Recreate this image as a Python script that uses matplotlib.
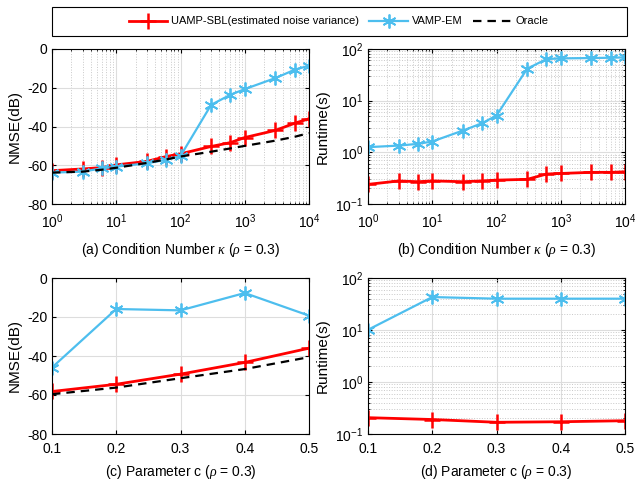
import numpy as np
import matplotlib
matplotlib.use("Agg")
import matplotlib.pyplot as plt
from matplotlib.ticker import LogLocator, NullFormatter
from matplotlib.patches import Rectangle

plt.rcParams['font.family'] = ['Liberation Sans', 'DejaVu Sans']
plt.rcParams['mathtext.fontset'] = 'custom'
plt.rcParams['mathtext.it'] = 'Liberation Serif:italic'
plt.rcParams['mathtext.rm'] = 'Liberation Sans'

# Data
kappa = [1, 3, 6, 10, 30, 60, 100, 300, 600, 1000, 3000, 6000, 10000]
uamp_nmse_k = [-62.8, -61.9, -61.2, -59.8, -58.0, -55.5, -54.1, -50.3, -48.3, -45.7, -42.0, -38.3, -36.0]
vamp_nmse_k = [-63.8, -63.3, -61.6, -60.7, -59.0, -57.2, -55.2, -28.8, -23.6, -20.7, -15.0, -10.7, -8.6]
oracle_nmse_k = [-63.8, -63.3, -62.3, -61.3, -58.8, -57.0, -55.5, -53.0, -51.3, -50.0, -47.3, -45.3, -43.4]

uamp_rt_k = [0.24, 0.279, 0.27, 0.28, 0.27, 0.28, 0.29, 0.30, 0.38, 0.39, 0.41, 0.41, 0.42]
vamp_rt_k = [1.26, 1.35, 1.46, 1.62, 2.64, 3.67, 5.16, 41.5, 63.9, 65.8, 66.8, 67.7, 68.9]

cpar = [0.1, 0.2, 0.3, 0.4, 0.5]
uamp_nmse_c = [-58.2, -54.5, -49.3, -43.3, -36.0]
vamp_nmse_c = [-45.9, -15.9, -16.6, -7.7, -19.3]
oracle_nmse_c = [-59.6, -56.2, -51.4, -46.7, -40.6]

uamp_rt_c = [0.206, 0.19, 0.168, 0.172, 0.18]
vamp_rt_c = [10.1, 43.0, 40.0, 40.0, 40.0]

labels = ['UAMP-SBL(estimated noise variance)', 'VAMP-EM', 'Oracle']
captions = [r'(a) Condition Number $\kappa$ ($\rho$ = 0.3)',
            r'(b) Condition Number $\kappa$ ($\rho$ = 0.3)',
            r'(c) Parameter c ($\rho$ = 0.3)',
            r'(d) Parameter c ($\rho$ = 0.3)']

RED = '#FF0000'
BLUE = '#4DBEEE'
FS = 10

W, H = 635, 483
fig = plt.figure(figsize=(W/100, H/100), dpi=100)

def rect(l, r, t, b):
    return [l/W, 1 - b/H, (r-l)/W, (b-t)/H]

axa = fig.add_axes(rect(52, 309, 49, 204))
axb = fig.add_axes(rect(368, 625, 49, 204))
axc = fig.add_axes(rect(52, 309, 278, 434))
axd = fig.add_axes(rect(368, 625, 278, 434))

star = (6, 2, 0)

def red(ax, x, y):
    return ax.plot(x, y, color=RED, lw=2, marker='+', ms=11, mew=1.8)[0]

def blue(ax, x, y):
    return ax.plot(x, y, color=BLUE, lw=1.6, marker=star, ms=10, mew=1.3)[0]

def black(ax, x, y):
    return ax.plot(x, y, color='black', lw=1.6, ls=(0, (3.8, 2.7)))[0]

def style(ax):
    ax.tick_params(direction='in', which='both', labelsize=FS, top=True, right=True, length=3)
    ax.tick_params(which='minor', length=1.5)
    ax.tick_params(axis='x', which='major', pad=6)
    for s in ax.spines.values():
        s.set_linewidth(0.8)
    ax.set_axisbelow(True)

# (a)
l1 = red(axa, kappa, uamp_nmse_k)
l2 = blue(axa, kappa, vamp_nmse_k)
l3 = black(axa, kappa, oracle_nmse_k)
axa.set_xscale('log')
axa.set_xlim(1, 1e4)
axa.set_ylim(-80, 0)
axa.set_yticks([-80, -60, -40, -20, 0])
axa.set_yticklabels(['-80', '-60', '-40', '-20', '0'])
axa.xaxis.set_minor_locator(LogLocator(base=10, subs=np.arange(2, 10), numticks=20))
axa.xaxis.set_minor_formatter(NullFormatter())
axa.grid(True, which='major', color='#DDDDDD', lw=0.8)
axa.grid(True, which='minor', axis='x', color='#C8C8C8', lw=0.7, ls=':')
axa.set_ylabel('NMSE(dB)', fontsize=FS+1)
style(axa)

# (b)
red(axb, kappa, uamp_rt_k)
blue(axb, kappa, vamp_rt_k)
axb.set_xscale('log')
axb.set_yscale('log')
axb.set_xlim(1, 1e4)
axb.set_ylim(0.1, 100)
for axis in (axb.xaxis, axb.yaxis):
    axis.set_minor_locator(LogLocator(base=10, subs=np.arange(2, 10), numticks=20))
    axis.set_minor_formatter(NullFormatter())
axb.grid(True, which='major', color='#DDDDDD', lw=0.8)
axb.grid(True, which='minor', color='#C8C8C8', lw=0.7, ls=':')
axb.set_ylabel('Runtime(s)', fontsize=FS+1)
style(axb)

# (c)
red(axc, cpar, uamp_nmse_c)
blue(axc, cpar, vamp_nmse_c)
black(axc, cpar, oracle_nmse_c)
axc.set_xlim(0.1, 0.5)
axc.set_ylim(-80, 0)
axc.set_xticks(cpar)
axc.set_xticklabels(['0.1', '0.2', '0.3', '0.4', '0.5'])
axc.set_yticks([-80, -60, -40, -20, 0])
axc.set_yticklabels(['-80', '-60', '-40', '-20', '0'])
axc.grid(True, which='major', color='#DDDDDD', lw=0.8)
axc.set_ylabel('NMSE(dB)', fontsize=FS+1)
style(axc)

# (d)
red(axd, cpar, uamp_rt_c)
blue(axd, cpar, vamp_rt_c)
axd.set_yscale('log')
axd.set_xlim(0.1, 0.5)
axd.set_ylim(0.1, 100)
axd.set_xticks(cpar)
axd.set_xticklabels(['0.1', '0.2', '0.3', '0.4', '0.5'])
axd.yaxis.set_minor_locator(LogLocator(base=10, subs=np.arange(2, 10), numticks=20))
axd.yaxis.set_minor_formatter(NullFormatter())
axd.grid(True, which='major', color='#DDDDDD', lw=0.8)
axd.grid(True, which='minor', axis='y', color='#C8C8C8', lw=0.7, ls=':')
axd.set_ylabel('Runtime(s)', fontsize=FS+1)
style(axd)

# captions
for (cx, cy), cap in zip([((52+309)/2, 250), ((368+625)/2, 250),
                          ((52+309)/2, 472), ((368+625)/2, 472)], captions):
    fig.text(cx/W, 1-cy/H, cap, ha='center', va='center', fontsize=FS)

# legend box
fig.add_artist(Rectangle((52/W, 1-36/H), (627-52)/W, 29/H, transform=fig.transFigure,
                         fill=True, facecolor='white', edgecolor='black', lw=0.8))
leg = fig.legend([l1, l2, l3], labels, loc='center', ncol=3,
                 bbox_to_anchor=(338.5/W, 1-21.5/H),
                 fontsize=8, frameon=False,
                 handlelength=3.5, handletextpad=0.35, columnspacing=0.9,
                 borderaxespad=0)

fig.savefig('out.png', dpi=100)
